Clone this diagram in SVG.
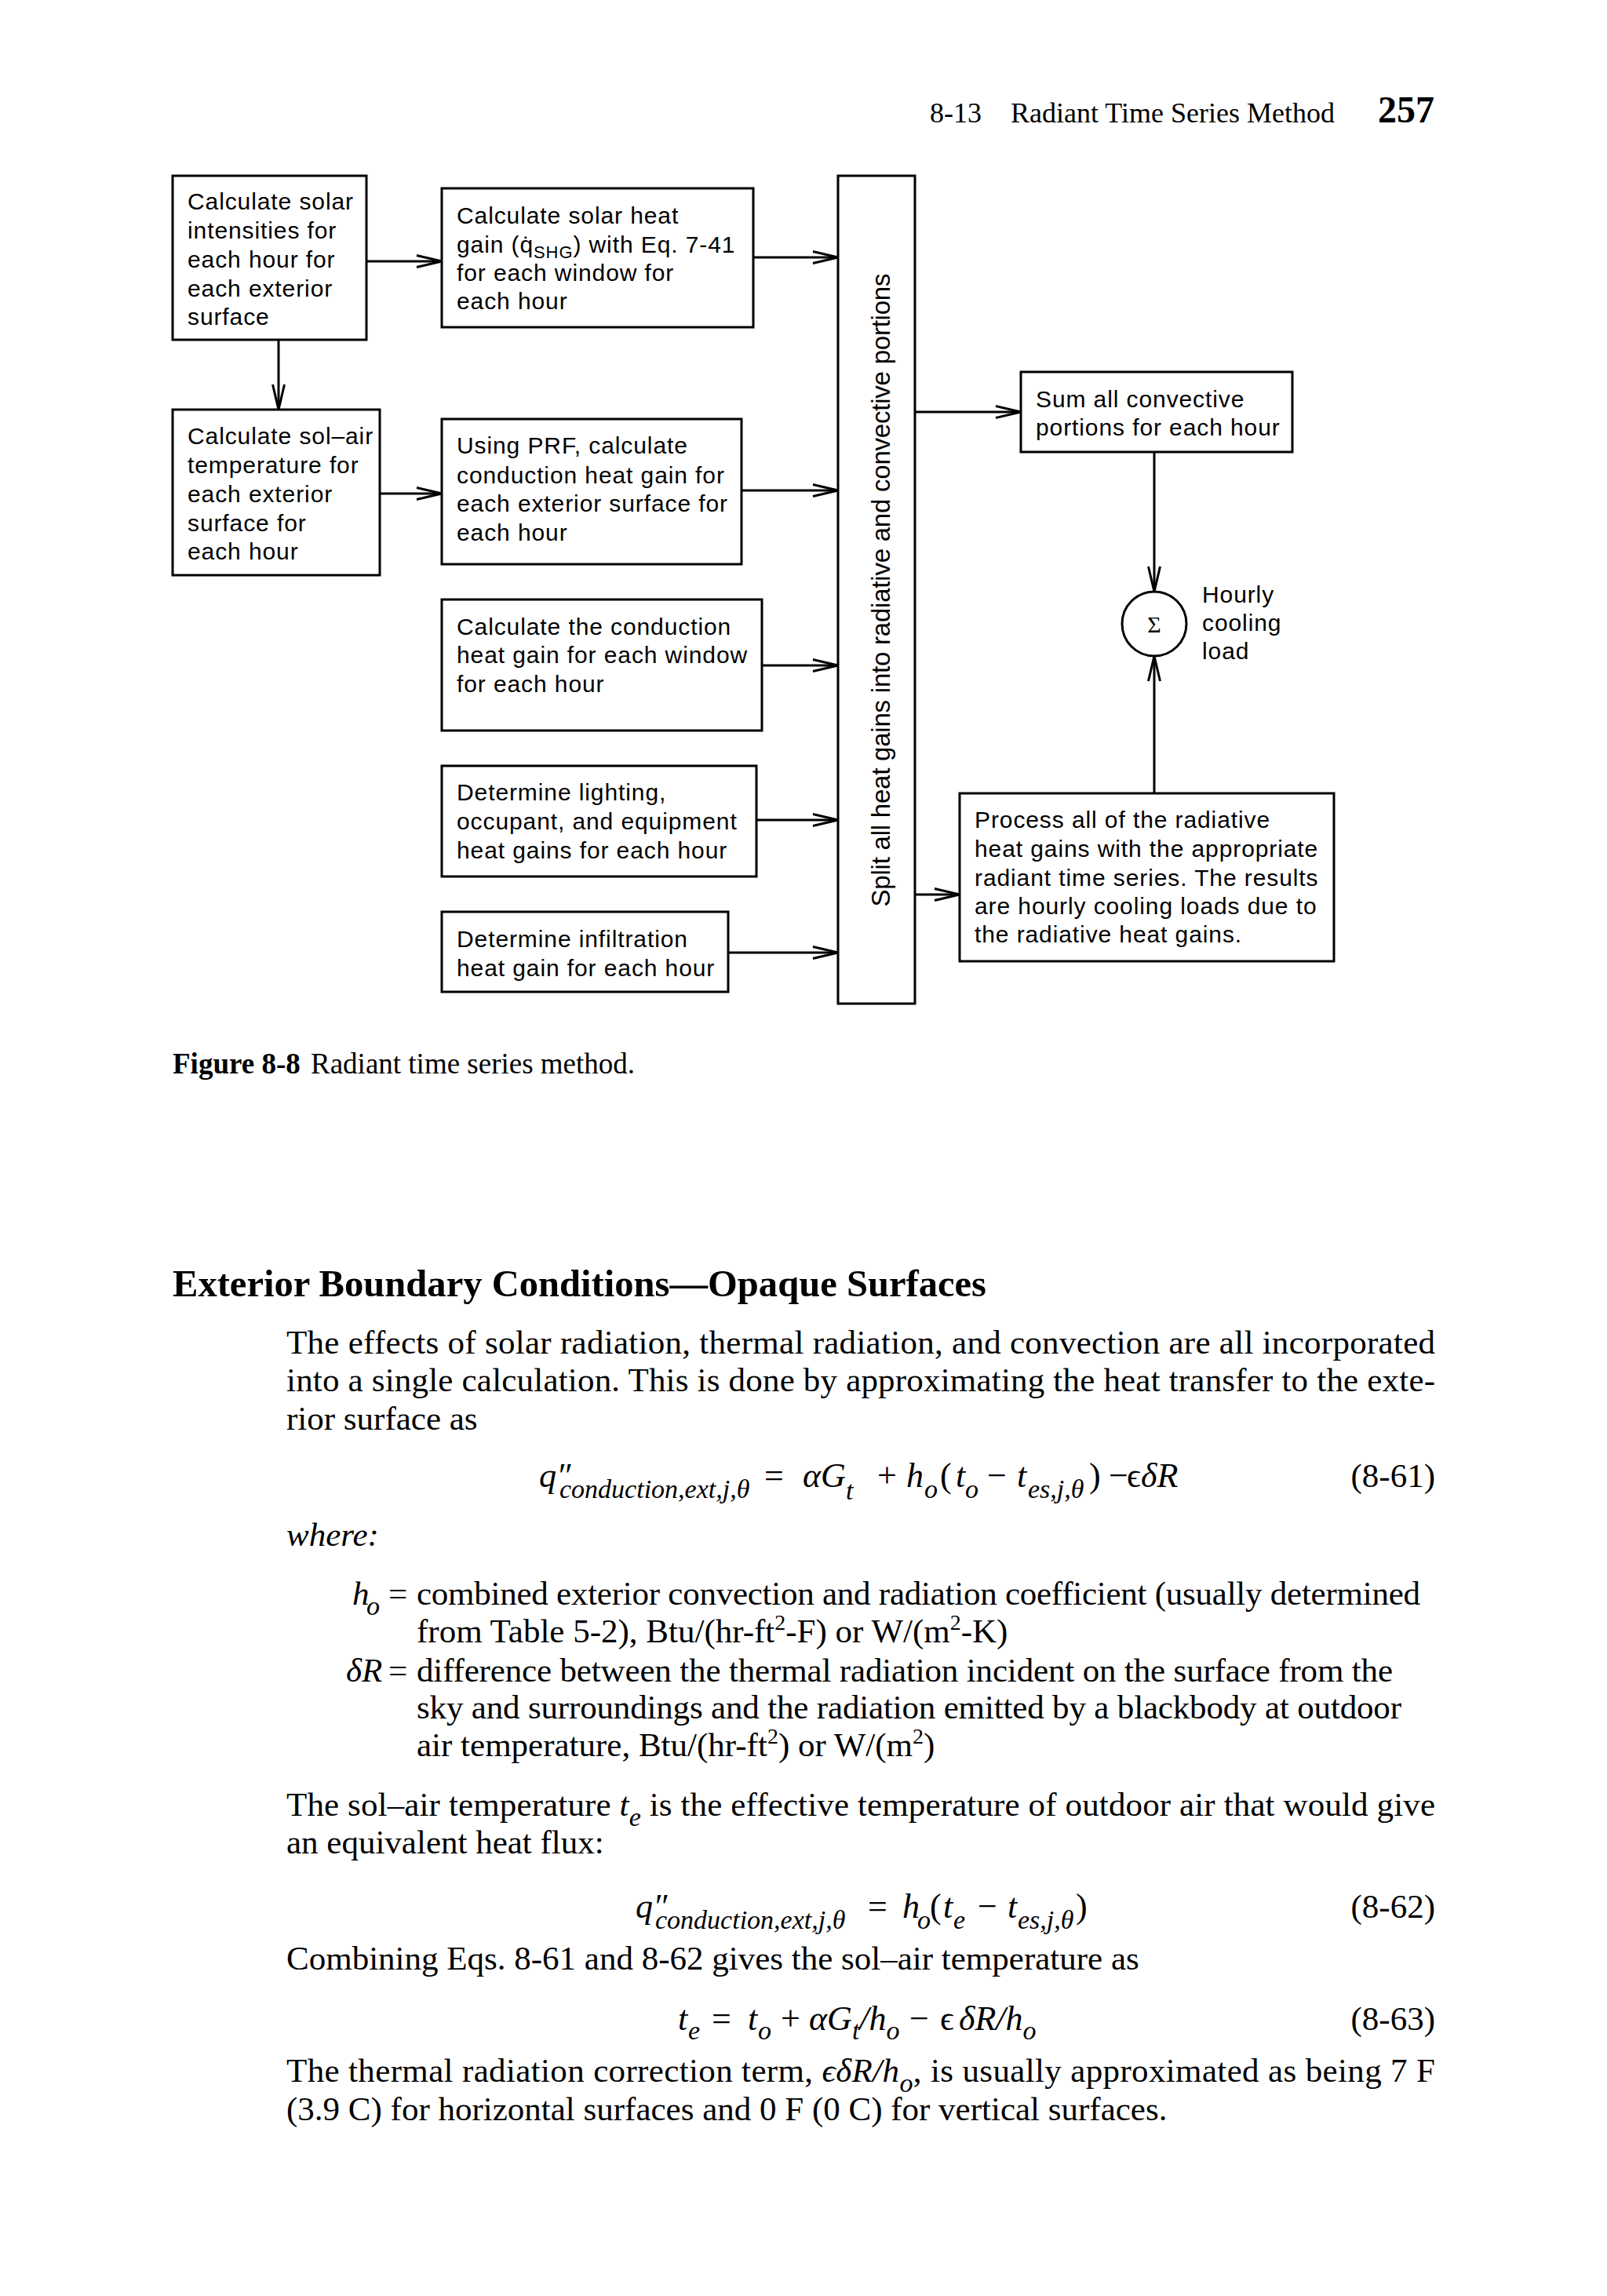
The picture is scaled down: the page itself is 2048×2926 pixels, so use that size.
<svg xmlns="http://www.w3.org/2000/svg" width="2048" height="2926" viewBox="0 0 2048 2926">
<style>
.bx{fill:#fff;stroke:#000;stroke-width:3}
.t{font-family:"Liberation Sans",Arial,sans-serif;font-size:30px;letter-spacing:0.9px;fill:#000}
.c{stroke:#000;stroke-width:3;fill:none;marker-end:url(#ah)}
.s{font-family:"Liberation Serif","Times New Roman",serif;fill:#000}
.b{font-size:43px}
.i{font-style:italic}
.m{font-size:44px}
.sb{font-size:34px;font-style:italic}
.sp{font-size:28px}
</style>
<defs>
<marker id="ah" markerUnits="userSpaceOnUse" markerWidth="36" markerHeight="20" refX="32" refY="8" orient="auto" overflow="visible">
<path d="M0,0.5 L32,8 L0,15.5" fill="none" stroke="#000" stroke-width="3"/>
</marker>
</defs>
<rect width="2048" height="2926" fill="#fff"/>

<g id="header" class="s">
<text x="1185" y="156" font-size="36">8-13</text>
<text x="1288" y="156" font-size="36">Radiant Time Series Method</text>
<text x="1756" y="156" font-size="48" font-weight="bold">257</text>
</g>

<g id="connectors">
<line class="c" x1="467" y1="333" x2="563" y2="333"/>
<line class="c" x1="355" y1="434" x2="355" y2="522"/>
<line class="c" x1="484" y1="629" x2="563" y2="629"/>
<line class="c" x1="960" y1="328" x2="1068" y2="328"/>
<line class="c" x1="945" y1="625" x2="1068" y2="625"/>
<line class="c" x1="971" y1="848" x2="1068" y2="848"/>
<line class="c" x1="964" y1="1045" x2="1068" y2="1045"/>
<line class="c" x1="928" y1="1214" x2="1068" y2="1214"/>
<line class="c" x1="1166" y1="525" x2="1301" y2="525"/>
<line class="c" x1="1166" y1="1140" x2="1223" y2="1140"/>
<line class="c" x1="1471" y1="576" x2="1471" y2="754"/>
<line class="c" x1="1471" y1="1011" x2="1471" y2="836"/>
</g>

<g id="n-solar-intensities">
<rect class="bx" x="220" y="224" width="247" height="209"/>
<text class="t" x="239" y="267">Calculate solar</text>
<text class="t" x="239" y="304">intensities for</text>
<text class="t" x="239" y="341">each hour for</text>
<text class="t" x="239" y="378">each exterior</text>
<text class="t" x="239" y="414">surface</text>
</g>

<g id="n-solar-heat-gain">
<rect class="bx" x="563" y="240" width="397" height="177"/>
<text class="t" x="582" y="285">Calculate solar heat</text>
<text class="t" x="582" y="322">gain (q&#x307;<tspan font-size="22" dy="7">SHG</tspan><tspan dy="-7">) with Eq. 7-41</tspan></text>
<text class="t" x="582" y="358">for each window for</text>
<text class="t" x="582" y="394">each hour</text>
</g>

<g id="n-sol-air">
<rect class="bx" x="220" y="522" width="264" height="211"/>
<text class="t" x="239" y="566">Calculate sol–air</text>
<text class="t" x="239" y="603">temperature for</text>
<text class="t" x="239" y="640">each exterior</text>
<text class="t" x="239" y="677">surface for</text>
<text class="t" x="239" y="713">each hour</text>
</g>

<g id="n-prf">
<rect class="bx" x="563" y="534" width="382" height="185"/>
<text class="t" x="582" y="578">Using PRF, calculate</text>
<text class="t" x="582" y="616">conduction heat gain for</text>
<text class="t" x="582" y="652">each exterior surface for</text>
<text class="t" x="582" y="689">each hour</text>
</g>

<g id="n-window-conduction">
<rect class="bx" x="563" y="764" width="408" height="167"/>
<text class="t" x="582" y="809">Calculate the conduction</text>
<text class="t" x="582" y="845">heat gain for each window</text>
<text class="t" x="582" y="882">for each hour</text>
</g>

<g id="n-internal">
<rect class="bx" x="563" y="976" width="401" height="141"/>
<text class="t" x="582" y="1020">Determine lighting,</text>
<text class="t" x="582" y="1057">occupant, and equipment</text>
<text class="t" x="582" y="1094">heat gains for each hour</text>
</g>

<g id="n-infiltration">
<rect class="bx" x="563" y="1162" width="365" height="102"/>
<text class="t" x="582" y="1207">Determine infiltration</text>
<text class="t" x="582" y="1244">heat gain for each hour</text>
</g>

<g id="n-split">
<rect class="bx" x="1068" y="224" width="98" height="1055"/>
<text transform="translate(1134,752) rotate(-90)" x="0" y="0" text-anchor="middle" font-family="Liberation Sans,Arial,sans-serif" font-size="33" textLength="807" lengthAdjust="spacing" fill="#000">Split all heat gains into radiative and convective portions</text>
</g>

<g id="n-sum">
<rect class="bx" x="1301" y="474" width="346" height="102"/>
<text class="t" x="1320" y="519">Sum all convective</text>
<text class="t" x="1320" y="555">portions for each hour</text>
</g>

<g id="n-sigma">
<circle cx="1471" cy="795" r="41" fill="#fff" stroke="#000" stroke-width="3"/>
<text class="s" x="1471" y="806" font-size="30" text-anchor="middle">Σ</text>
<text class="t" x="1532" y="768">Hourly</text>
<text class="t" x="1532" y="804">cooling</text>
<text class="t" x="1532" y="840">load</text>
</g>

<g id="n-process">
<rect class="bx" x="1223" y="1011" width="477" height="214"/>
<text class="t" x="1242" y="1055">Process all of the radiative</text>
<text class="t" x="1242" y="1092">heat gains with the appropriate</text>
<text class="t" x="1242" y="1129">radiant time series. The results</text>
<text class="t" x="1242" y="1165">are hourly cooling loads due to</text>
<text class="t" x="1242" y="1201">the radiative heat gains.</text>
</g>

<g id="caption" class="s">
<text x="220" y="1368" font-size="37"><tspan font-weight="bold">Figure 8-8</tspan><tspan x="396">Radiant time series method.</tspan></text>
</g>

<g id="body" class="s">
<text x="220" y="1652" font-size="48" font-weight="bold" textLength="1037" lengthAdjust="spacingAndGlyphs">Exterior Boundary Conditions—Opaque Surfaces</text>
<text class="b" x="365" y="1725" textLength="1464" lengthAdjust="spacing">The effects of solar radiation, thermal radiation, and convection are all incorporated</text>
<text class="b" x="365" y="1773" textLength="1464" lengthAdjust="spacing">into a single calculation. This is done by approximating the heat transfer to the exte-</text>
<text class="b" x="365" y="1822">rior surface as</text>

<!-- Eq 8-61 -->
<text class="m"><tspan class="i" x="687" y="1895">q″</tspan><tspan class="sb" x="713" y="1909">conduction,ext,j,θ</tspan><tspan x="974" y="1895">=</tspan><tspan class="i" x="1023" y="1895">αG</tspan><tspan class="sb" dy="16">t</tspan><tspan x="1118" y="1895">+</tspan><tspan class="i" x="1155" y="1895">h</tspan><tspan class="sb" x="1178" y="1909">o</tspan><tspan x="1198" y="1895">(</tspan><tspan class="i" x="1218" y="1895">t</tspan><tspan class="sb" x="1230" y="1909">o</tspan><tspan x="1258" y="1895">−</tspan><tspan class="i" x="1296" y="1895">t</tspan><tspan class="sb" x="1310" y="1909">es,j,θ</tspan><tspan x="1388" y="1895">)</tspan><tspan x="1413" y="1895">−</tspan><tspan x="1436" y="1895">ϵ</tspan><tspan class="i" x="1454" y="1895">δR</tspan></text>
<text class="b" x="1829" y="1895" text-anchor="end">(8-61)</text>

<text class="b i" x="365" y="1970">where:</text>

<text class="b"><tspan class="i" x="449" y="2045">h</tspan><tspan class="sb" x="467" y="2058">o</tspan><tspan x="495" y="2045">=</tspan></text>
<text class="b" x="531" y="2045" textLength="1279" lengthAdjust="spacing">combined exterior convection and radiation coefficient (usually determined</text>
<text class="b" x="531" y="2093">from Table 5-2), Btu/(hr-ft<tspan class="sp" dy="-16">2</tspan><tspan dy="16">-F) or W/(m</tspan><tspan class="sp" dy="-16">2</tspan><tspan dy="16">-K)</tspan></text>
<text class="b"><tspan class="i" x="441" y="2143">δR</tspan><tspan x="495" y="2143">=</tspan></text>
<text class="b" x="531" y="2143" textLength="1244" lengthAdjust="spacing">difference between the thermal radiation incident on the surface from the</text>
<text class="b" x="531" y="2190" textLength="1255" lengthAdjust="spacing">sky and surroundings and the radiation emitted by a blackbody at outdoor</text>
<text class="b" x="531" y="2238">air temperature, Btu/(hr-ft<tspan class="sp" dy="-16">2</tspan><tspan dy="16">) or W/(m</tspan><tspan class="sp" dy="-16">2</tspan><tspan dy="16">)</tspan></text>

<text class="b" x="365" y="2314" textLength="1464" lengthAdjust="spacing">The sol–air temperature <tspan class="i">t</tspan><tspan class="sb" dy="13">e</tspan><tspan dy="-13"> is the effective temperature of outdoor air that would give</tspan></text>
<text class="b" x="365" y="2362">an equivalent heat flux:</text>

<!-- Eq 8-62 -->
<text class="m"><tspan class="i" x="810" y="2444">q″</tspan><tspan class="sb" x="835" y="2458">conduction,ext,j,θ</tspan><tspan x="1106" y="2444">=</tspan><tspan class="i" x="1150" y="2444">h</tspan><tspan class="sb" x="1169" y="2458">o</tspan><tspan x="1185" y="2444">(</tspan><tspan class="i" x="1202" y="2444">t</tspan><tspan class="sb" x="1215" y="2458">e</tspan><tspan x="1246" y="2444">−</tspan><tspan class="i" x="1284" y="2444">t</tspan><tspan class="sb" x="1297" y="2458">es,j,θ</tspan><tspan x="1371" y="2444">)</tspan></text>
<text class="b" x="1829" y="2444" text-anchor="end">(8-62)</text>

<text class="b" x="365" y="2510">Combining Eqs. 8-61 and 8-62 gives the sol–air temperature as</text>

<!-- Eq 8-63 -->
<text class="m"><tspan class="i" x="864" y="2587">t</tspan><tspan class="sb" x="877" y="2599">e</tspan><tspan x="907" y="2587">=</tspan><tspan class="i" x="953" y="2587">t</tspan><tspan class="sb" x="966" y="2599">o</tspan><tspan x="995" y="2587">+</tspan><tspan class="i" x="1031" y="2587">αG</tspan><tspan class="sb" dy="12">t</tspan><tspan class="i" dy="-12">/h</tspan><tspan class="sb" dy="12">o</tspan><tspan x="1159" y="2587">−</tspan><tspan x="1198" y="2587">ϵ</tspan><tspan class="i" x="1222" y="2587">δR/h</tspan><tspan class="sb" dy="12">o</tspan></text>
<text class="b" x="1829" y="2587" text-anchor="end">(8-63)</text>

<text class="b" x="365" y="2653" textLength="1464" lengthAdjust="spacing">The thermal radiation correction term, <tspan class="i">ϵδR/h</tspan><tspan class="sb" dy="13">o</tspan><tspan dy="-13">, is usually approximated as being 7 F</tspan></text>
<text class="b" x="365" y="2702">(3.9 C) for horizontal surfaces and 0 F (0 C) for vertical surfaces.</text>
</g>
</svg>
